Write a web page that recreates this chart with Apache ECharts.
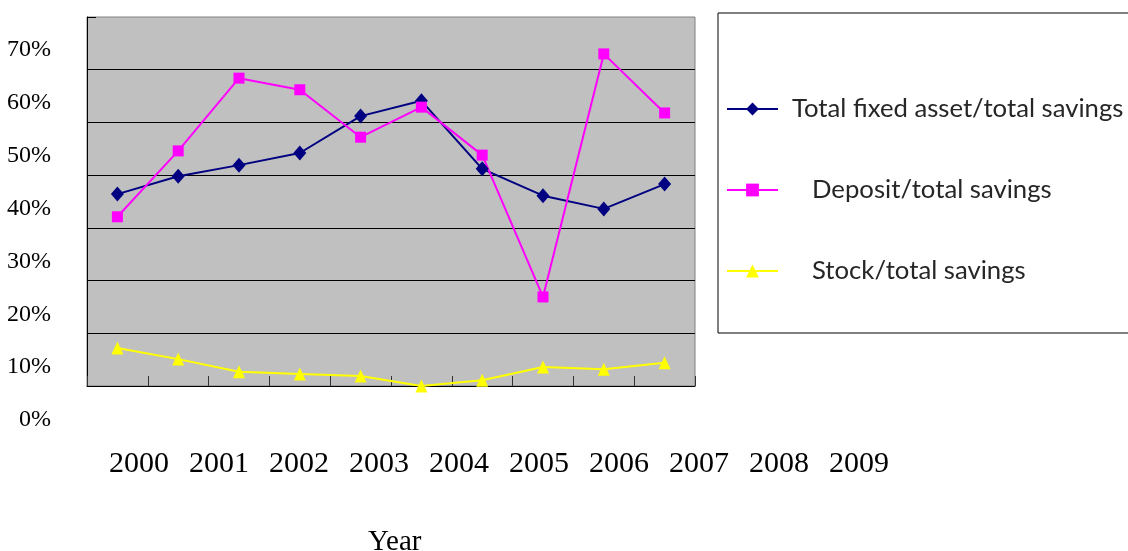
<!DOCTYPE html>
<html><head><meta charset="utf-8">
<script src="https://cdn.jsdelivr.net/npm/echarts@6/dist/echarts.min.js"></script>
<style>html,body{margin:0;padding:0;background:#fff}#c{width:1128px;height:551px}</style>
</head><body><div id="c"></div>
<script>
const years = ['2000','2001','2002','2003','2004','2005','2006','2007','2008','2009'];
const fixedAsset = [36.4, 39.8, 41.9, 44.2, 51.2, 54.1, 41.2, 36.1, 33.6, 38.3];
const deposit = [32.1, 44.6, 58.4, 56.2, 47.2, 52.9, 43.8, 16.9, 63.0, 51.8];
const stock = [7.2, 5.1, 2.7, 2.3, 1.9, 0.0, 1.1, 3.6, 3.2, 4.4];
const seriesNames = ['Total fixed asset/total savings', 'Deposit/total savings', 'Stock/total savings'];
const yMin = 0, yMax = 70, yStep = 10;

const chart = echarts.init(document.getElementById('c'), null, {renderer: 'canvas'});
const serif = '"Liberation Serif", "Times New Roman", serif';
const legendFont = 'Lato, "Open Sans", sans-serif';

chart.setOption({
  animation: false,
  backgroundColor: '#fff',
  grid: [
    {left: 87, top: 17, width: 608, height: 369, show: true, backgroundColor: '#c0c0c0', borderColor: '#808080', borderWidth: 1},
    {left: 99, top: 50, width: 800, height: 370, show: false}
  ],
  xAxis: [
    {type: 'category', gridIndex: 0, data: years, boundaryGap: true,
     axisLine: {show: true, lineStyle: {color: '#000', width: 1}},
     axisTick: {show: true, inside: true, length: 10, lineStyle: {color: '#333'}},
     axisLabel: {show: false}, splitLine: {show: false}},
    {type: 'category', gridIndex: 1, data: years, boundaryGap: true,
     axisLine: {show: false}, axisTick: {show: false}, splitLine: {show: false},
     axisLabel: {show: true, fontFamily: serif, fontSize: 30, color: '#000', margin: 44, verticalAlign: 'middle'}}
  ],
  yAxis: [
    {type: 'value', gridIndex: 0, min: yMin, max: yMax, interval: yStep,
     axisLine: {show: true, lineStyle: {color: '#000', width: 1}},
     axisTick: {show: true, inside: true, length: 9, lineStyle: {color: '#000'}},
     axisLabel: {show: false},
     splitLine: {show: true, showMaxLine: false, showMinLine: false, lineStyle: {color: '#000', width: 1}}},
    {type: 'value', gridIndex: 1, min: yMin, max: yMax, interval: yStep,
     axisLine: {show: false}, axisTick: {show: false}, splitLine: {show: false},
     axisLabel: {show: true, formatter: '{value}%', fontFamily: serif, fontSize: 24, color: '#000', margin: 48}}
  ],
  title: {text: 'Year', left: 368, top: 528, padding: 0,
          textStyle: {fontFamily: serif, fontSize: 29, fontWeight: 'normal', color: '#000', lineHeight: 29}},
  legend: {
    orient: 'vertical', left: 718, top: 13,
    padding: [81, 40, 47, 8],
    backgroundColor: '#fff', borderColor: '#000', borderWidth: 1, borderRadius: 0,
    itemWidth: 51, itemHeight: 16, itemGap: 51,
    data: seriesNames,
    formatter: function (name) { return (name === seriesNames[0] ? '{a|' : '{b|') + name + '}'; },
    textStyle: {
      fontFamily: legendFont, fontSize: 25.7, color: '#262626', lineHeight: 30,
      rich: {
        a: {fontFamily: legendFont, fontSize: 25.7, color: '#262626', lineHeight: 30, padding: [0, 0, 0, 9]},
        b: {fontFamily: legendFont, fontSize: 25.7, color: '#262626', lineHeight: 30, padding: [0, 0, 0, 29]}
      }
    }
  },
  series: [
    {name: seriesNames[0], type: 'line', xAxisIndex: 0, yAxisIndex: 0, data: fixedAsset, clip: false,
     symbol: 'diamond', symbolSize: [13, 15], showAllSymbol: true,
     lineStyle: {color: '#000080', width: 2}, itemStyle: {color: '#000080'}},
    {name: seriesNames[1], type: 'line', xAxisIndex: 0, yAxisIndex: 0, data: deposit, clip: false,
     symbol: 'rect', symbolSize: 11, showAllSymbol: true,
     lineStyle: {color: '#ff00ff', width: 2}, itemStyle: {color: '#ff00ff'}},
    {name: seriesNames[2], type: 'line', xAxisIndex: 0, yAxisIndex: 0, data: stock, clip: false,
     symbol: 'triangle', symbolSize: [12, 13], showAllSymbol: true,
     lineStyle: {color: '#ffff00', width: 2}, itemStyle: {color: '#ffff00'}}
  ]
});
</script>
</body></html>
